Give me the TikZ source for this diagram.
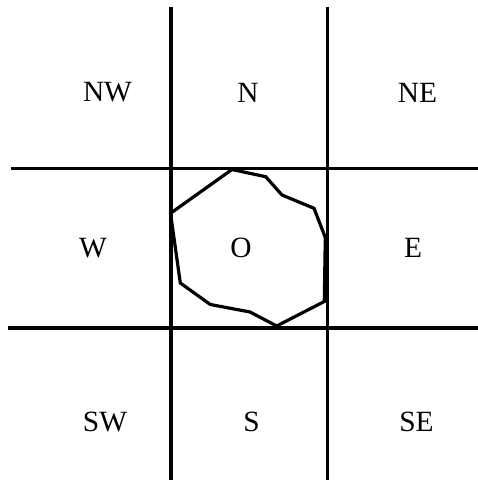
\documentclass[tikz,border=0pt]{standalone}
\usepackage{fontspec}
\setmainfont{Liberation Serif}
\begin{document}
\begin{tikzpicture}[x=1bp,y=-1bp,line width=3.2bp,
    dir label/.style={font=\fontsize{29.5}{32}\selectfont,inner sep=0pt} ]
    \useasboundingbox (0,0) rectangle (478,481);
    % grid lines
    \coordinate (v1a) at (171,7);   \coordinate (v1b) at (171,480);
    \coordinate (v2a) at (327.5,7); \coordinate (v2b) at (327.5,480);
    \coordinate (h1a) at (11,168.5); \coordinate (h1b) at (478,168.5);
    \coordinate (h2a) at (8,328);    \coordinate (h2b) at (478,328);
    \draw (v1a) -- (v1b);
    \draw (v2a) -- (v2b);
    \draw (h1a) -- (h1b);
    \draw (h2a) -- (h2b);
    % the object
    \draw [line join=miter] (232,169.5) -- (265.7,176.7) -- (282,195) -- (314,208.3)
      -- (325.3,237.5) -- (324.3,301.5) -- (276.7,326) -- (250,312)
      -- (210.3,304.5) -- (180.3,283) -- (170.5,213.3) -- cycle;
    % direction labels
    \node at (107.5,92.5) [dir label] (nw) {NW};
    \node at (248,92.5) [dir label] (n) {N};
    \node at (417.5,92.5) [dir label] (ne) {NE};
    \node at (93,248) [dir label] (w) {W};
    \node at (241,248) [dir label] (o) {O};
    \node at (413,248) [dir label] (e) {E};
    \node at (105,421.5) [dir label] (sw) {SW};
    \node at (251.5,421.5) [dir label] (s) {S};
    \node at (416.5,421.5) [dir label] (se) {SE};
\end{tikzpicture}
\end{document}
